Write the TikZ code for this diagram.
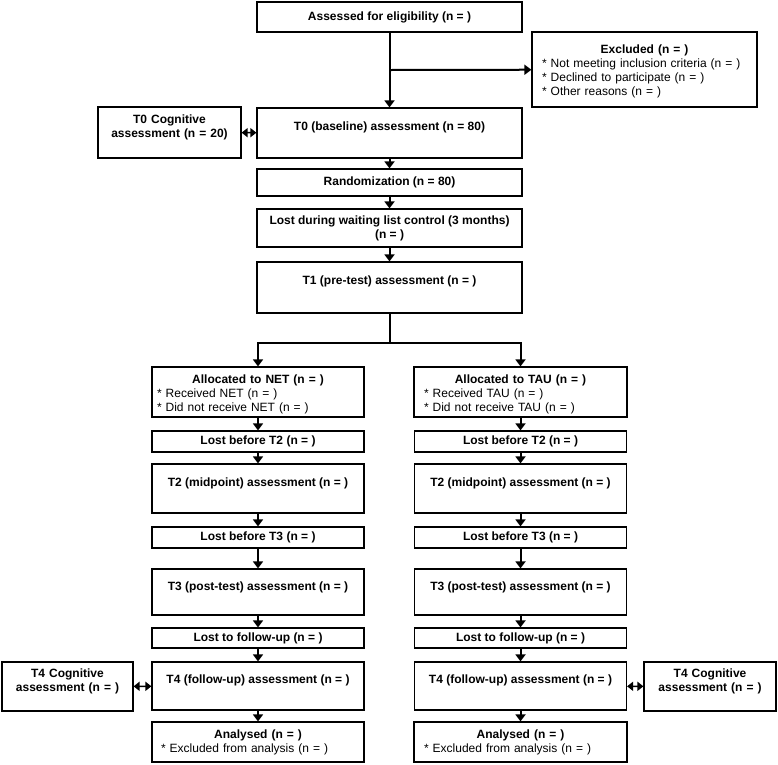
\documentclass[tikz,border=0pt]{standalone}
\usepackage{fontspec}
\setmainfont{Liberation Sans}
\usetikzlibrary{arrows.meta}

\begin{document}
\begin{tikzpicture}
  [x=1pt,y=-1pt,
   box/.style={draw,rectangle,line width=1.2pt,inner xsep=4pt,inner ysep=0pt,
     align=center,font=\fontsize{12}{14}\selectfont\bfseries},
   main/.style={box,minimum width=265pt},
   col/.style={box,minimum width=212pt},
   arr/.style={line width=2pt,-{Triangle[width=10pt,length=7pt]}},
   dbl/.style={line width=1.5pt,{Triangle[width=9pt,length=6pt]}-{Triangle[width=9pt,length=6pt]}}]
  \useasboundingbox (0,0) rectangle (778,764);

  % top part
  \node[main,minimum height=30pt] (elig) at (389.5,17) {Assessed for eligibility (n = )};
  \node[box,text width=205pt,inner xsep=10pt,align=left,text height=21pt,text depth=54pt]
    (excl) at (644.5,69.5)
    {\makebox[\linewidth]{Excluded (n = )}\\ \mdseries
     {*} Not meeting inclusion criteria (n = )\\
     {*} Declined to participate (n = )\\
     {*} Other reasons (n = )};
  \node[main,text height=22pt,text depth=28pt] (t0) at (389.5,133) {T0 (baseline) assessment (n = 80)};
  \node[box,text width=135pt,text height=16pt,text depth=35pt] (t0cog) at (169.5,132.5)
    {T0 Cognitive\\assessment (n = 20)};
  \node[main,minimum height=27pt] (rand) at (389.5,182.5) {Randomization (n = 80)};
  \node[main,minimum height=38pt] (lost) at (389.5,228) {Lost during waiting list control (3 months)\\(n = )};
  \node[main,text height=22pt,text depth=29pt] (t1) at (389.5,287.5) {T1 (pre-test) assessment (n = )};
  \coordinate (split) at (389.5,70);
  \coordinate (fork) at (389.5,343);

  % NET arm
  \node[box,text width=202pt,inner xsep=5pt,align=left,text height=16pt,text depth=34pt]
    (netA) at (258,392)
    {\makebox[\linewidth]{Allocated to NET (n = )}\\ \mdseries
     {*} Received NET (n = )\\
     {*} Did not receive NET (n = )};
  \node[col,minimum height=21pt] (netL2) at (258,441.5) {Lost before T2 (n = )};
  \node[col,text height=22pt,text depth=27pt] (netT2) at (258,488.5) {T2 (midpoint) assessment (n = )};
  \node[col,minimum height=21pt] (netL3) at (258,537.5) {Lost before T3 (n = )};
  \node[col,text height=21pt,text depth=25pt] (netT3) at (258,592) {T3 (post-test) assessment (n = )};
  \node[col,minimum height=20pt] (netLF) at (258,638) {Lost to follow-up (n = )};
  \node[col,text height=21pt,text depth=27pt] (netT4) at (258,686) {T4 (follow-up) assessment (n = )};
  \node[box,text width=194pt,inner xsep=9pt,align=left,text height=16pt,text depth=24pt]
    (netAn) at (258,742)
    {\makebox[\linewidth]{Analysed (n = )}\\ \mdseries
     {*} Excluded from analysis (n = )};
  \node[box,text width=123pt,text height=15pt,text depth=34pt] (netCog) at (67.5,686.5)
    {T4 Cognitive\\assessment (n = )};

  % TAU arm
  \node[box,text width=193pt,inner xsep=10pt,align=left,text height=16pt,text depth=34pt]
    (tauA) at (520.5,392)
    {\makebox[\linewidth]{Allocated to TAU (n = )}\\ \mdseries
     {*} Received TAU (n = )\\
     {*} Did not receive TAU (n = )};
  \node[col,minimum height=21pt] (tauL2) at (520.5,441.5) {Lost before T2 (n = )};
  \node[col,text height=22pt,text depth=27pt] (tauT2) at (520.5,488.5) {T2 (midpoint) assessment (n = )};
  \node[col,minimum height=21pt] (tauL3) at (520.5,537.5) {Lost before T3 (n = )};
  \node[col,text height=21pt,text depth=25pt] (tauT3) at (520.5,592) {T3 (post-test) assessment (n = )};
  \node[col,minimum height=20pt] (tauLF) at (520.5,638) {Lost to follow-up (n = )};
  \node[col,text height=21pt,text depth=27pt] (tauT4) at (520.5,686) {T4 (follow-up) assessment (n = )};
  \node[box,text width=193pt,inner xsep=10pt,align=left,text height=16pt,text depth=24pt]
    (tauAn) at (520.5,742)
    {\makebox[\linewidth]{Analysed (n = )}\\ \mdseries
     {*} Excluded from analysis (n = )};
  \node[box,text width=124pt,text height=15pt,text depth=34pt] (tauCog) at (710,686.5)
    {T4 Cognitive\\assessment (n = )};

  % connectors
  \foreach \from/\to in {elig/t0,split/excl,t0/rand,rand/lost,lost/t1}
    \draw[arr] (\from) -- (\to);
  \draw[line width=2pt] (t1) -- (fork);
  \draw[arr] (fork) -| (netA);
  \draw[arr] (fork) -| (tauA);
  \foreach \c in {net,tau}
    \foreach \from/\to in {A/L2,L2/T2,T2/L3,L3/T3,T3/LF,LF/T4,T4/An}
      \draw[arr] (\c\from) -- (\c\to);
  \foreach \from/\to in {t0cog/t0,netCog/netT4,tauT4/tauCog}
    \draw[dbl] (\from) -- (\to);

\end{tikzpicture}
\end{document}
